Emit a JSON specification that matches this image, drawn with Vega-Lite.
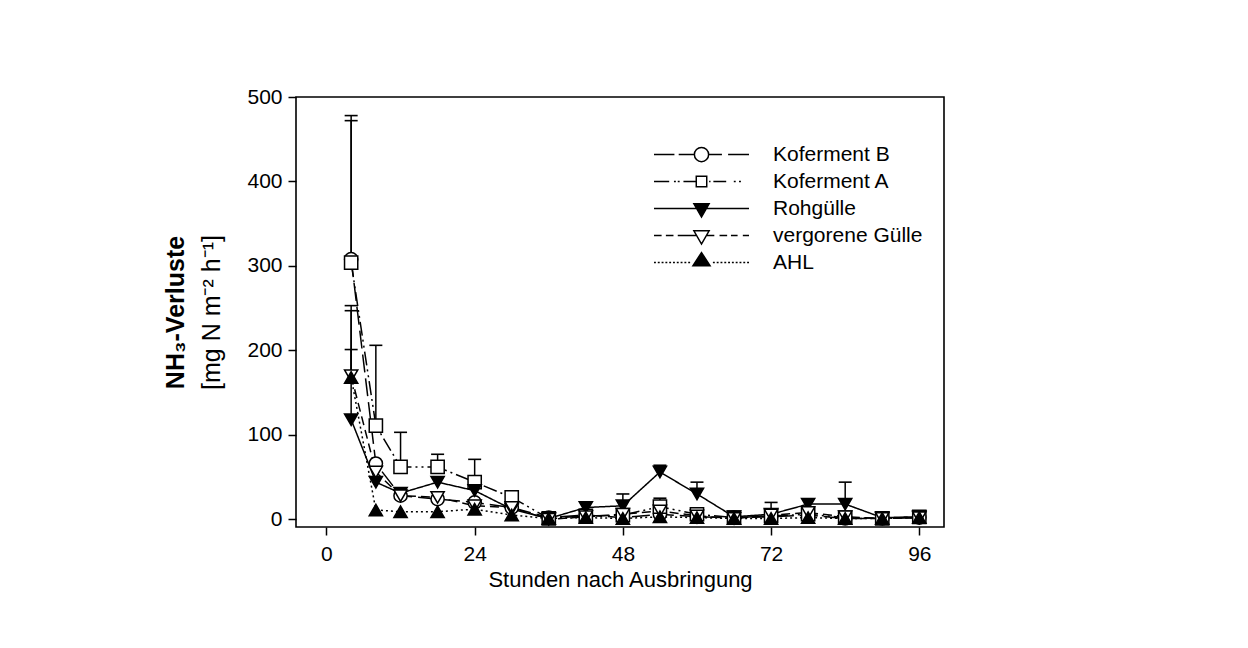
{
  "$schema": "https://vega.github.io/schema/vega-lite/v6.json",
  "width": 648,
  "height": 430,
  "autosize": {"type": "none"},
  "padding": {"left": 296, "top": 97, "right": 304, "bottom": 121},
  "background": "white",
  "config": {
    "font": "Liberation Sans",
    "view": {"stroke": "black", "strokeWidth": 1.6},
    "axis": {
      "domain": false, "grid": false,
      "tickColor": "black", "tickWidth": 1.5, "tickSize": 8,
      "labelColor": "black", "labelFontSize": 21, "labelFont": "Liberation Sans",
      "titleColor": "black", "titleFont": "Liberation Sans", "titleFontWeight": "normal"
    }
  },
  "datasets": {
    "d": [
      {"t": 4, "s": "Koferment B", "v": 308, "e": 478},
      {"t": 8, "s": "Koferment B", "v": 66},
      {"t": 12, "s": "Koferment B", "v": 28},
      {"t": 18, "s": "Koferment B", "v": 24},
      {"t": 24, "s": "Koferment B", "v": 20},
      {"t": 30, "s": "Koferment B", "v": 14},
      {"t": 36, "s": "Koferment B", "v": 2},
      {"t": 42, "s": "Koferment B", "v": 5},
      {"t": 48, "s": "Koferment B", "v": 2},
      {"t": 54, "s": "Koferment B", "v": 6},
      {"t": 60, "s": "Koferment B", "v": 3},
      {"t": 66, "s": "Koferment B", "v": 2},
      {"t": 72, "s": "Koferment B", "v": 3},
      {"t": 78, "s": "Koferment B", "v": 5},
      {"t": 84, "s": "Koferment B", "v": 1},
      {"t": 90, "s": "Koferment B", "v": 1},
      {"t": 96, "s": "Koferment B", "v": 2},
      {"t": 4, "s": "Koferment A", "v": 304, "e": 472},
      {"t": 8, "s": "Koferment A", "v": 111, "e": 206},
      {"t": 12, "s": "Koferment A", "v": 62, "e": 103},
      {"t": 18, "s": "Koferment A", "v": 62, "e": 77},
      {"t": 24, "s": "Koferment A", "v": 44, "e": 71},
      {"t": 30, "s": "Koferment A", "v": 26},
      {"t": 36, "s": "Koferment A", "v": 1},
      {"t": 42, "s": "Koferment A", "v": 4},
      {"t": 48, "s": "Koferment A", "v": 5},
      {"t": 54, "s": "Koferment A", "v": 15, "e": 25},
      {"t": 60, "s": "Koferment A", "v": 6},
      {"t": 66, "s": "Koferment A", "v": 2},
      {"t": 72, "s": "Koferment A", "v": 4},
      {"t": 78, "s": "Koferment A", "v": 6},
      {"t": 84, "s": "Koferment A", "v": 2},
      {"t": 90, "s": "Koferment A", "v": 1},
      {"t": 96, "s": "Koferment A", "v": 3},
      {"t": 4, "s": "Rohgülle", "v": 118, "e": 247},
      {"t": 8, "s": "Rohgülle", "v": 44},
      {"t": 12, "s": "Rohgülle", "v": 31},
      {"t": 18, "s": "Rohgülle", "v": 44},
      {"t": 24, "s": "Rohgülle", "v": 34},
      {"t": 30, "s": "Rohgülle", "v": 12},
      {"t": 36, "s": "Rohgülle", "v": 1},
      {"t": 42, "s": "Rohgülle", "v": 14},
      {"t": 48, "s": "Rohgülle", "v": 16, "e": 30},
      {"t": 54, "s": "Rohgülle", "v": 56, "e": 64},
      {"t": 60, "s": "Rohgülle", "v": 30, "e": 44},
      {"t": 66, "s": "Rohgülle", "v": 3},
      {"t": 72, "s": "Rohgülle", "v": 6, "e": 20},
      {"t": 78, "s": "Rohgülle", "v": 18},
      {"t": 84, "s": "Rohgülle", "v": 18, "e": 44},
      {"t": 90, "s": "Rohgülle", "v": 2},
      {"t": 96, "s": "Rohgülle", "v": 3},
      {"t": 4, "s": "vergorene Gülle", "v": 170, "e": 253},
      {"t": 8, "s": "vergorene Gülle", "v": 56},
      {"t": 12, "s": "vergorene Gülle", "v": 28},
      {"t": 18, "s": "vergorene Gülle", "v": 26},
      {"t": 24, "s": "vergorene Gülle", "v": 16},
      {"t": 30, "s": "vergorene Gülle", "v": 14},
      {"t": 36, "s": "vergorene Gülle", "v": 0},
      {"t": 42, "s": "vergorene Gülle", "v": 3},
      {"t": 48, "s": "vergorene Gülle", "v": 6},
      {"t": 54, "s": "vergorene Gülle", "v": 10},
      {"t": 60, "s": "vergorene Gülle", "v": 4},
      {"t": 66, "s": "vergorene Gülle", "v": 1},
      {"t": 72, "s": "vergorene Gülle", "v": 5},
      {"t": 78, "s": "vergorene Gülle", "v": 8},
      {"t": 84, "s": "vergorene Gülle", "v": 3},
      {"t": 90, "s": "vergorene Gülle", "v": 1},
      {"t": 96, "s": "vergorene Gülle", "v": 2},
      {"t": 4, "s": "AHL", "v": 168, "e": 201},
      {"t": 8, "s": "AHL", "v": 11},
      {"t": 12, "s": "AHL", "v": 9},
      {"t": 18, "s": "AHL", "v": 9},
      {"t": 24, "s": "AHL", "v": 12},
      {"t": 30, "s": "AHL", "v": 5},
      {"t": 36, "s": "AHL", "v": 1},
      {"t": 42, "s": "AHL", "v": 2},
      {"t": 48, "s": "AHL", "v": 1},
      {"t": 54, "s": "AHL", "v": 3},
      {"t": 60, "s": "AHL", "v": 2},
      {"t": 66, "s": "AHL", "v": 1},
      {"t": 72, "s": "AHL", "v": 1},
      {"t": 78, "s": "AHL", "v": 2},
      {"t": 84, "s": "AHL", "v": 1},
      {"t": 90, "s": "AHL", "v": 1},
      {"t": 96, "s": "AHL", "v": 2}
    ]
  },
  "data": {"name": "d"},
  "encoding": {
    "x": {
      "field": "t", "type": "quantitative",
      "scale": {"domain": [-4.93, 100], "nice": false, "zero": false},
      "axis": {"values": [0, 24, 48, 72, 96], "title": "Stunden nach Ausbringung", "titleFontSize": 22, "labelPadding": 8, "titlePadding": 5, "labelFlush": false}
    }
  },
  "layer": [
    {
      "encoding": {
        "y": {"field": "v", "type": "quantitative", "scale": {"domain": [-9.1, 500], "nice": false, "zero": false}, "axis": {"orient": "left", "values": [0, 100, 200, 300, 400, 500], "title": "[mg N m⁻² h⁻¹]", "titleFontSize": 25, "labelPadding": 6, "titlePadding": 22}}
      },
      "layer": [
        {
          "mark": {"type": "line", "stroke": "black", "strokeWidth": 1.5},
          "encoding": {
            "strokeDash": {
              "field": "s", "type": "nominal",
              "scale": {"domain": ["Koferment B", "Koferment A", "Rohgülle", "vergorene Gülle", "AHL"], "range": [[18, 6], [14, 4, 2, 4, 2, 4], [1, 0], [9, 5], [2, 3]]},
              "legend": null
            },
            "order": {"field": "t", "type": "quantitative"}
          }
        },
        {
          "transform": [{"filter": "isValid(datum.e)"}],
          "mark": {"type": "rule", "stroke": "black", "strokeWidth": 1.5},
          "encoding": {
            "y2": {"field": "e"}
          }
        },
        {
          "transform": [{"filter": "isValid(datum.e)"}],
          "mark": {"type": "tick", "orient": "horizontal", "color": "black", "size": 13, "thickness": 1.6, "opacity": 1},
          "encoding": {
            "y": {"field": "e", "type": "quantitative", "scale": {"domain": [-9.1, 500], "nice": false, "zero": false}, "axis": {"orient": "left", "values": [0, 100, 200, 300, 400, 500], "title": "[mg N m⁻² h⁻¹]", "titleFontSize": 25, "labelPadding": 6, "titlePadding": 22}}
          }
        },
        {
          "mark": {"type": "point", "stroke": "black", "strokeWidth": 1.5, "size": 175, "opacity": 1},
          "encoding": {
            "shape": {
              "field": "s", "type": "nominal",
              "scale": {"domain": ["Koferment B", "Koferment A", "Rohgülle", "vergorene Gülle", "AHL"], "range": ["circle", "square", "triangle-down", "triangle-down", "triangle-up"]},
              "legend": null
            },
            "fill": {
              "field": "s", "type": "nominal",
              "scale": {"domain": ["Koferment B", "Koferment A", "Rohgülle", "vergorene Gülle", "AHL"], "range": ["white", "white", "black", "white", "black"]},
              "legend": null
            }
          }
        }
      ]
    },
    {
      "transform": [{"filter": "datum.t > 1000"}],
      "mark": {"type": "point", "strokeWidth": 1.5, "opacity": 1},
      "encoding": {
        "y": {"field": "v", "type": "quantitative", "scale": {"domain": [-9.1, 500], "nice": false, "zero": false}, "axis": {"orient": "left", "title": "NH₃-Verluste", "titleFontWeight": "bold", "titleFontSize": 25, "labels": false, "ticks": false, "domain": false, "titlePadding": 108}},
        "shape": {
          "field": "s", "type": "nominal",
          "scale": {"domain": ["Koferment B", "Koferment A", "Rohgülle", "vergorene Gülle", "AHL"], "range": [
            "M-1,0H-0.57M-0.48,0H-0.15M0.15,0H0.43M0.56,0H1M0.15,0A0.15,0.15,0,0,1,-0.15,0A0.15,0.15,0,0,1,0.15,0Z",
            "M-1,0H-0.68M-0.58,0H-0.54M-0.5,0H-0.46M-0.38,0H-0.11M0.16,0H0.19M0.25,0H0.52M0.68,0H0.72M0.79,0H0.83M-0.11,-0.11H0.11V0.11H-0.11Z",
            "M-1,0H1M-0.16,-0.1H0.16L0,0.18Z",
            "M-1,0H-0.84M-0.75,0H-0.59M-0.5,0H-0.1M0.1,0H0.27M0.38,0H0.54M0.62,0H0.76M0.87,0H1M-0.16,-0.1H0.16L0,0.18Z",
            "M-1,0H-0.96M-0.92,0H-0.88M-0.84,0H-0.8M-0.76,0H-0.72M-0.68,0H-0.64M-0.6,0H-0.56M-0.52,0H-0.48M-0.44,0H-0.4M-0.36,0H-0.32M-0.28,0H-0.24M0.24,0H0.28M0.32,0H0.36M0.4,0H0.44M0.48,0H0.52M0.56,0H0.6M0.64,0H0.68M0.72,0H0.76M0.8,0H0.84M0.88,0H0.92M0.96,0H1M-0.18,0.07H0.18L0,-0.21Z"
          ]},
          "legend": {"title": null, "orient": "none", "legendX": 357, "legendY": 44, "symbolSize": 9025, "symbolStrokeWidth": 1.5, "symbolOpacity": 1, "labelFontSize": 21, "labelFont": "Liberation Sans", "labelColor": "black", "labelOffset": 23, "clipHeight": 27, "rowPadding": 0, "padding": 0, "symbolOffset": 0, "labelLimit": 400}
        },
        "fill": {
          "field": "s", "type": "nominal",
          "scale": {"domain": ["Koferment B", "Koferment A", "Rohgülle", "vergorene Gülle", "AHL"], "range": ["white", "white", "black", "white", "black"]},
          "legend": {"title": null, "orient": "none", "legendX": 357, "legendY": 44, "symbolSize": 9025, "symbolStrokeWidth": 1.5, "symbolOpacity": 1, "labelFontSize": 21, "labelFont": "Liberation Sans", "labelColor": "black", "labelOffset": 23, "clipHeight": 27, "rowPadding": 0, "padding": 0, "symbolOffset": 0, "labelLimit": 400}
        },
        "stroke": {
          "field": "s", "type": "nominal",
          "scale": {"domain": ["Koferment B", "Koferment A", "Rohgülle", "vergorene Gülle", "AHL"], "range": ["black", "black", "black", "black", "black"]},
          "legend": {"title": null, "orient": "none", "legendX": 357, "legendY": 44, "symbolSize": 9025, "symbolStrokeWidth": 1.5, "symbolOpacity": 1, "labelFontSize": 21, "labelFont": "Liberation Sans", "labelColor": "black", "labelOffset": 23, "clipHeight": 27, "rowPadding": 0, "padding": 0, "symbolOffset": 0, "labelLimit": 400}
        }
      }
    }
  ],
  "resolve": {"scale": {"shape": "independent", "fill": "independent", "stroke": "independent"}, "axis": {"y": "independent"}}
}
